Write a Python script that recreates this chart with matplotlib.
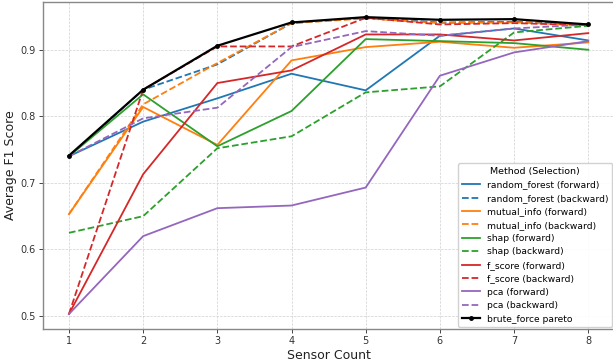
import matplotlib
matplotlib.use("Agg")
import matplotlib.pyplot as plt

sensor_count = [1, 2, 3, 4, 5, 6, 7, 8]

rf_forward = [0.740, 0.792, 0.827, 0.864, 0.839, 0.921, 0.932, 0.914]
rf_backward = [0.740, 0.840, 0.878, 0.940, 0.948, 0.941, 0.942, 0.938]
mi_forward = [0.653, 0.814, 0.757, 0.884, 0.904, 0.912, 0.903, 0.911]
mi_backward = [0.653, 0.818, 0.880, 0.940, 0.947, 0.940, 0.941, 0.937]
shap_forward = [0.740, 0.833, 0.755, 0.808, 0.916, 0.913, 0.910, 0.900]
shap_backward = [0.625, 0.650, 0.752, 0.770, 0.836, 0.845, 0.926, 0.936]
fs_forward = [0.503, 0.713, 0.850, 0.869, 0.923, 0.923, 0.914, 0.925]
fs_backward = [0.503, 0.840, 0.905, 0.905, 0.948, 0.938, 0.940, 0.937]
pca_forward = [0.503, 0.620, 0.662, 0.666, 0.693, 0.861, 0.896, 0.913]
pca_backward = [0.740, 0.797, 0.813, 0.904, 0.928, 0.921, 0.932, 0.938]
brute_force = [0.741, 0.840, 0.906, 0.941, 0.949, 0.945, 0.946, 0.938]

series = [
    ("random_forest (forward)", rf_forward, "#1f77b4", "-"),
    ("random_forest (backward)", rf_backward, "#1f77b4", "--"),
    ("mutual_info (forward)", mi_forward, "#ff7f0e", "-"),
    ("mutual_info (backward)", mi_backward, "#ff7f0e", "--"),
    ("shap (forward)", shap_forward, "#2ca02c", "-"),
    ("shap (backward)", shap_backward, "#2ca02c", "--"),
    ("f_score (forward)", fs_forward, "#d62728", "-"),
    ("f_score (backward)", fs_backward, "#d62728", "--"),
    ("pca (forward)", pca_forward, "#9467bd", "-"),
    ("pca (backward)", pca_backward, "#9467bd", "--"),
]

fig = plt.figure(figsize=(6.13, 3.63), dpi=100)
ax = fig.add_axes([43/613, 1 - 329/363, 1 - 43/613 + 0.002, (329 - 1.5)/363])

for label, vals, color, ls in series:
    ax.plot(sensor_count, vals, color=color, linestyle=ls, linewidth=1.3, label=label)
ax.plot(sensor_count, brute_force, color="black", linewidth=1.6, marker="o",
        markersize=2.5, label="brute_force pareto")

ax.set_xlim(0.65, 8.35)
ax.set_ylim(0.4805, 0.9725)
ax.set_yticks([0.5, 0.6, 0.7, 0.8, 0.9])
ax.set_xticks(sensor_count)
ax.tick_params(labelsize=7, length=3, width=0.7, pad=2, colors="#444444", labelcolor="#333333")
ax.grid(True, linestyle="--", linewidth=0.5, color="#cccccc", alpha=0.9)
for s in ax.spines.values():
    s.set_color("#888888")
    s.set_linewidth(1.0)

ax.set_xlabel("Sensor Count", fontsize=9, color="#222222", labelpad=2)
ax.set_ylabel("Average F1 Score", fontsize=9, color="#222222", labelpad=3)

leg = ax.legend(title="Method (Selection)", loc="lower right", fontsize=6.6,
                title_fontsize=6.8, handlelength=2.0, labelspacing=0.48,
                borderaxespad=0.2, framealpha=0.9, edgecolor="#cccccc")

fig.savefig("out.png", dpi=100)
